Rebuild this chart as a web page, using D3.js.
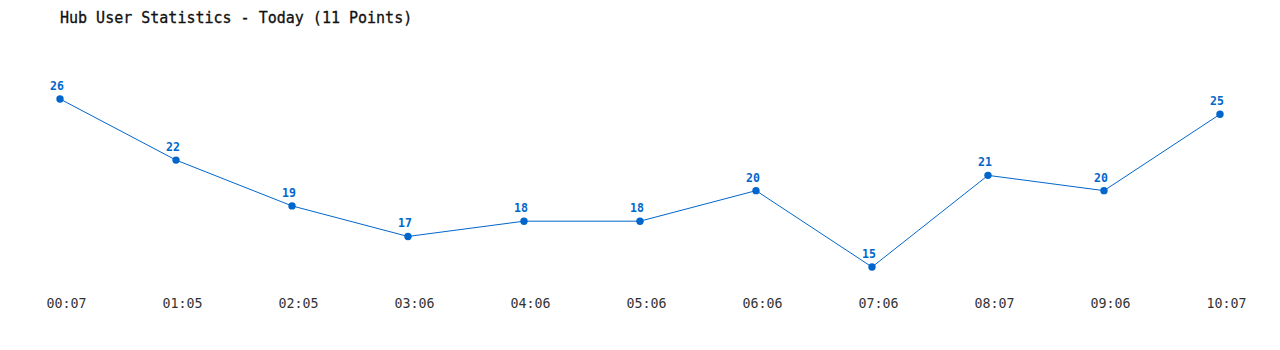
<!DOCTYPE html>
<html>
<head>
<meta charset="utf-8">
<script src="https://cdn.jsdelivr.net/npm/d3@7"></script>
<style>
  body { margin: 0; background: #fff; }
  svg { display: block; }
</style>
</head>
<body>
<div class="chart"></div>
<script>
// data
var times = ["00:07", "01:05", "02:05", "03:06", "04:06", "05:06", "06:06", "07:06", "08:07", "09:06", "10:07"];
var users = [26, 22, 19, 17, 18, 18, 20, 15, 21, 20, 25];
var title = "Hub User Statistics - Today (11 Points)";

var width = 1280, height = 350;
var font = "'DejaVu Sans Mono', 'Liberation Mono', monospace";
var blue = "#0066cc";

var svg = d3.select(".chart").append("svg")
    .attr("width", width)
    .attr("height", height);

var x = d3.scalePoint()
    .domain(times)
    .range([60, 1220]);

var y = d3.scaleLinear()
    .domain([15, 26])
    .range([267, 99]);

svg.append("text")
    .attr("x", 60)
    .attr("y", 23)
    .attr("font-family", font)
    .attr("font-size", 15)
    .attr("fill", "#111")
    .attr("stroke", "#111")
    .attr("stroke-width", 0.3)
    .text(title);

// tick labels sit a few px right of the points, like the original
var xAxis = d3.axisBottom(x).tickSize(0).tickPadding(0);
var gx = svg.append("g")
    .attr("transform", "translate(6,299)")
    .call(xAxis);
gx.select(".domain").remove();
gx.selectAll("text")
    .attr("font-family", font)
    .attr("font-size", 13.3)
    .attr("fill", "#333")
    .attr("dy", "0.71em");

var line = d3.line()
    .x(function (d, i) { return x(times[i]); })
    .y(function (d) { return y(d); });

svg.append("path")
    .datum(users)
    .attr("fill", "none")
    .attr("stroke", blue)
    .attr("stroke-width", 1)
    .attr("d", line);

svg.selectAll("circle")
    .data(users)
    .enter().append("circle")
    .attr("cx", function (d, i) { return x(times[i]); })
    .attr("cy", function (d) { return y(d); })
    .attr("r", 3.7)
    .attr("fill", blue);

svg.selectAll(".lbl")
    .data(users)
    .enter().append("text")
    .attr("class", "lbl")
    .attr("x", function (d, i) { return x(times[i]) - 3; })
    .attr("y", function (d) { return y(d) - 9; })
    .attr("text-anchor", "middle")
    .attr("font-family", font)
    .attr("font-size", 11.5)
    .attr("font-weight", "bold")
    .attr("fill", blue)
    .text(function (d) { return d; });
</script>
</body>
</html>
